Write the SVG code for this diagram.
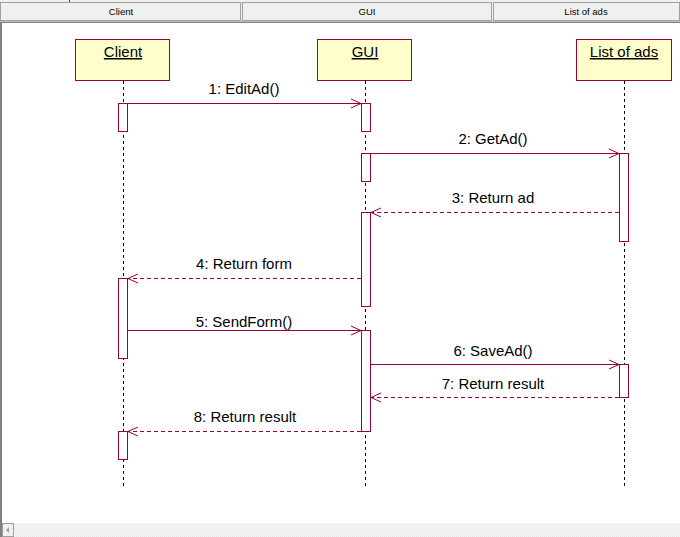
<svg xmlns="http://www.w3.org/2000/svg" width="680" height="537" viewBox="0 0 680 537">
<defs>
<style>
.hdr{fill:#f0f0f0;stroke:#a0a0a0;stroke-width:1}
.htxt{font-family:"Liberation Sans",Arial,sans-serif;font-size:9.5px;fill:#000;text-anchor:middle}
.obj{fill:#ffffcc;stroke:#990033;stroke-width:1}
.otxt{font-family:"Liberation Sans",Arial,sans-serif;font-size:15px;fill:#000;text-anchor:middle;text-decoration:underline}
.life{stroke:#000;stroke-width:1;stroke-dasharray:3,3;fill:none}
.act{fill:#fff;stroke:#990033;stroke-width:1}
.msg{stroke:#990033;stroke-width:1;fill:none}
.ret{stroke:#990033;stroke-width:1;fill:none;stroke-dasharray:4,3}
.mtxt{font-family:"Liberation Sans",Arial,sans-serif;font-size:15px;fill:#000;text-anchor:middle}
</style>
<marker id="arr" markerWidth="12" markerHeight="12" refX="11" refY="6" orient="auto" markerUnits="userSpaceOnUse">
<path d="M1,1.5 L11,6 L1,10.5" fill="none" stroke="#990033" stroke-width="1"/>
</marker>
<pattern id="sb" width="2" height="2" patternUnits="userSpaceOnUse">
<rect width="2" height="2" fill="#f4f4f4"/>
<rect width="1" height="1" fill="#e8e8e8"/>
</pattern>
</defs>
<rect width="680" height="537" fill="#fff"/>
<!-- header -->
<g id="header">
<rect x="0" y="0" width="680" height="22" fill="#f0f0f0"/>
<rect class="hdr" x="0.5" y="2.5" width="240" height="18"/>
<rect class="hdr" x="242.5" y="2.5" width="249" height="18"/>
<rect class="hdr" x="493.5" y="2.5" width="186" height="18"/>
<line x1="69.5" y1="0" x2="69.5" y2="2" stroke="#404040"/>
<text class="htxt" x="121" y="15">Client</text>
<text class="htxt" x="367" y="15">GUI</text>
<text class="htxt" x="586" y="15">List of ads</text>
<line x1="0" y1="22.5" x2="680" y2="22.5" stroke="#808080" stroke-width="1"/>
<line x1="0" y1="21.5" x2="680" y2="21.5" stroke="#c0c0c0" stroke-width="1"/>
<line x1="1" y1="22" x2="1" y2="537" stroke="#808080" stroke-width="2"/>
</g>
<!-- objects -->
<g id="client">
<rect class="obj" x="75.5" y="39.5" width="94" height="41"/>
<text class="otxt" x="123" y="57">Client</text>
<line class="life" x1="123.5" y1="81" x2="123.5" y2="487"/>
<rect class="act" x="118.5" y="103.5" width="9" height="28"/>
<rect class="act" x="118.5" y="278.5" width="9" height="80"/>
<rect class="act" x="118.5" y="431.5" width="9" height="28"/>
</g>
<g id="gui">
<rect class="obj" x="317.5" y="39.5" width="94" height="41"/>
<text class="otxt" x="365" y="57">GUI</text>
<line class="life" x1="365.5" y1="81" x2="365.5" y2="487"/>
<rect class="act" x="361.5" y="103.5" width="9" height="28"/>
<rect class="act" x="361.5" y="153.5" width="9" height="28"/>
<rect class="act" x="361.5" y="212.5" width="9" height="94"/>
<rect class="act" x="361.5" y="330.5" width="9" height="101"/>
</g>
<g id="listofads">
<rect class="obj" x="576.5" y="39.5" width="95" height="41"/>
<text class="otxt" x="624" y="57">List of ads</text>
<line class="life" x1="624.5" y1="81" x2="624.5" y2="487"/>
<rect class="act" x="619.5" y="153.5" width="9" height="88"/>
<rect class="act" x="619.5" y="364.5" width="9" height="33"/>
</g>
<!-- connectors -->
<g id="connectors">
<line class="msg" x1="128" y1="103.5" x2="361" y2="103.5" marker-end="url(#arr)"/>
<text class="mtxt" x="244" y="94">1: EditAd()</text>
<line class="msg" x1="371" y1="153.5" x2="619" y2="153.5" marker-end="url(#arr)"/>
<text class="mtxt" x="493" y="144">2: GetAd()</text>
<line class="ret" x1="619" y1="212.5" x2="371" y2="212.5" marker-end="url(#arr)"/>
<text class="mtxt" x="493" y="203">3: Return ad</text>
<line class="ret" x1="361" y1="278.5" x2="128" y2="278.5" marker-end="url(#arr)"/>
<text class="mtxt" x="244" y="269">4: Return form</text>
<line class="msg" x1="128" y1="330.5" x2="361" y2="330.5" marker-end="url(#arr)"/>
<text class="mtxt" x="244" y="327">5: SendForm()</text>
<line class="msg" x1="371" y1="364.5" x2="619" y2="364.5" marker-end="url(#arr)"/>
<text class="mtxt" x="493" y="356">6: SaveAd()</text>
<line class="ret" x1="619" y1="397.5" x2="371" y2="397.5" marker-end="url(#arr)"/>
<text class="mtxt" x="493" y="389">7: Return result</text>
<line class="ret" x1="361" y1="431.5" x2="128" y2="431.5" marker-end="url(#arr)"/>
<text class="mtxt" x="245" y="422">8: Return result</text>
</g>
<!-- scrollbar -->
<g id="scrollbar">
<rect x="2" y="523" width="678" height="14" fill="url(#sb)"/>
<rect x="2.5" y="523.5" width="11" height="13" fill="#f0f0f0" stroke="#a0a0a0"/>
<path d="M6,530 L9,527 L9,533 Z" fill="#a0a0a0"/>
</g>
</svg>
